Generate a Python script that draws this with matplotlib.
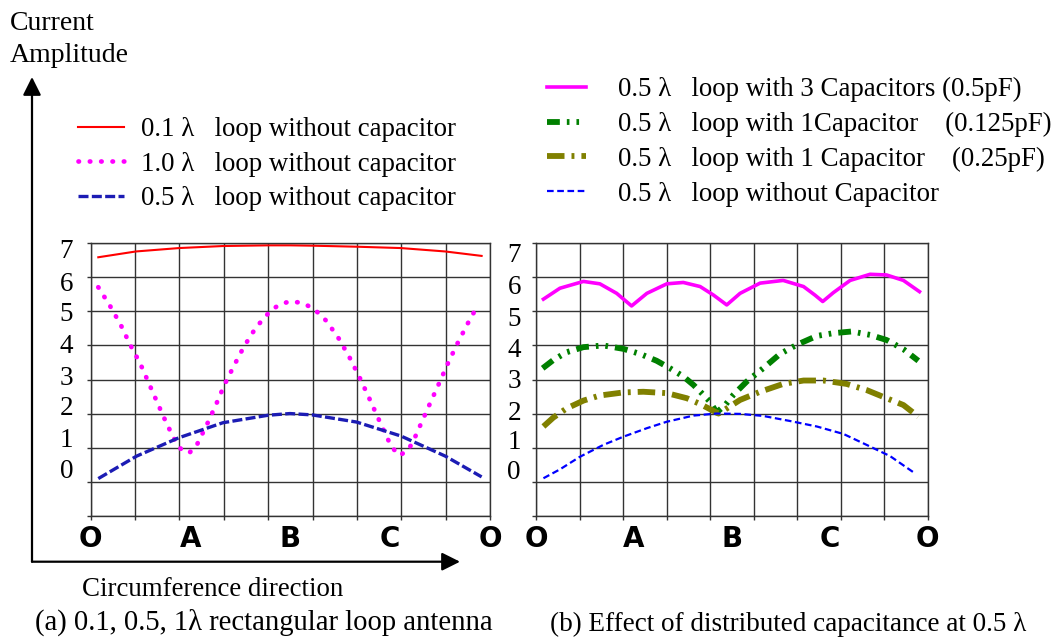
import numpy as np
from matplotlib import pyplot as plt
from matplotlib.patches import FancyArrowPatch

# position along the loop circumference (0 = O, 1 = back to O)
pos_01 = [0.019, 0.113, 0.221, 0.331, 0.444, 0.5, 0.555, 0.666, 0.777, 0.888, 0.979]
amp_01 = [6.59, 6.76, 6.86, 6.92, 6.94, 6.94, 6.93, 6.90, 6.86, 6.76, 6.63]

pos_10 = [0.019, 0.048, 0.075, 0.098, 0.124, 0.146, 0.168, 0.19, 0.214, 0.232, 0.249,
          0.265, 0.29, 0.313, 0.334, 0.359, 0.384, 0.414, 0.449, 0.471, 0.497, 0.526,
          0.551, 0.573, 0.591, 0.622, 0.649, 0.673, 0.696, 0.719, 0.741, 0.754, 0.772,
          0.792, 0.806, 0.829, 0.851, 0.873, 0.896, 0.919, 0.944, 0.971]
amp_10 = [5.71, 5.17, 4.61, 4.04, 3.47, 2.88, 2.29, 1.71, 1.14, 0.87, 0.87,
          1.06, 1.65, 2.24, 2.82, 3.41, 3.97, 4.53, 5.0, 5.19, 5.29, 5.26,
          5.13, 4.93, 4.71, 4.19, 3.63, 3.07, 2.49, 1.89, 1.32, 1.02, 0.77,
          0.89, 1.14, 1.75, 2.33, 2.9, 3.51, 4.07, 4.64, 5.21]

pos_05a = [0.019, 0.115, 0.221, 0.331, 0.444, 0.499, 0.555, 0.666, 0.777, 0.888, 0.979]
amp_05a = [0.09, 0.75, 1.29, 1.73, 1.95, 2.0, 1.96, 1.75, 1.34, 0.75, 0.14]

pos_3cap = [0.019, 0.061, 0.121, 0.163, 0.206, 0.244, 0.283, 0.334, 0.376, 0.419, 0.453,
            0.487, 0.521, 0.572, 0.631, 0.683, 0.712, 0.732, 0.759, 0.802, 0.853, 0.895,
            0.938, 0.979]
amp_3cap = [5.36, 5.68, 5.88, 5.81, 5.53, 5.16, 5.53, 5.81, 5.85, 5.73, 5.48,
            5.19, 5.53, 5.83, 5.91, 5.73, 5.48, 5.29, 5.55, 5.91, 6.09, 6.07,
            5.91, 5.58]

pos_c0125 = [0.017, 0.044, 0.078, 0.121, 0.172, 0.223, 0.266, 0.308, 0.342, 0.376, 0.402,
             0.423, 0.444, 0.461, 0.483, 0.504, 0.538, 0.58, 0.623, 0.666, 0.717, 0.759,
             0.806, 0.853, 0.895, 0.938, 0.976]
amp_c0125 = [3.33, 3.57, 3.8, 3.95, 4.0, 3.9, 3.75, 3.55, 3.33, 3.09, 2.84,
             2.6, 2.35, 2.03, 2.25, 2.55, 2.94, 3.33, 3.75, 4.02, 4.28, 4.36,
             4.41, 4.31, 4.16, 3.89, 3.55]

pos_c025 = [0.019, 0.044, 0.078, 0.121, 0.163, 0.223, 0.274, 0.334, 0.385, 0.419, 0.444,
            0.466, 0.487, 0.521, 0.572, 0.631, 0.683, 0.734, 0.793, 0.844, 0.895, 0.938,
            0.976]
amp_c025 = [1.62, 1.88, 2.15, 2.38, 2.53, 2.62, 2.64, 2.6, 2.45, 2.28, 2.13,
            2.0, 2.15, 2.4, 2.64, 2.87, 2.97, 2.97, 2.87, 2.69, 2.45, 2.25,
            1.91]

pos_05b = [0.019, 0.061, 0.112, 0.172, 0.223, 0.283, 0.334, 0.402, 0.461, 0.521, 0.58,
           0.649, 0.717, 0.785, 0.844, 0.904, 0.968]
amp_05b = [0.1, 0.36, 0.73, 1.08, 1.32, 1.57, 1.76, 1.94, 2.0, 1.99, 1.93,
           1.78, 1.62, 1.4, 1.08, 0.75, 0.24]

point_labels = ["O", "A", "B", "C", "O"]
amp_labels = ["0", "1", "2", "3", "4", "5", "6", "7"]
# the printed amplitude numbers sit a little off the grid lines
amp_label_pos_a = [0.40, 1.30, 2.24, 3.11, 4.05, 5.0, 5.87, 6.84]
amp_label_pos_b = [0.37, 1.25, 2.10, 3.04, 3.95, 4.86, 5.80, 6.74]

SERIF = "Liberation Serif"
W, H = 1063, 644


def style_panel(ax, label_pos, ypad):
    ax.set_xlim(0, 1)
    ax.set_ylim(-1, 7)
    ax.set_xticks(np.linspace(0, 1, 10))
    ax.set_yticks(np.arange(-1, 8))
    ax.set_xticklabels([])
    ax.set_yticklabels([])
    ax.xaxis.remove_overlapping_locs = False
    ax.yaxis.remove_overlapping_locs = False
    ax.set_xticks([0, 0.25, 0.5, 0.75, 1], minor=True)
    ax.set_xticklabels(point_labels, minor=True, fontfamily="DejaVu Sans",
                       fontweight="bold", fontsize=20)
    ax.set_yticks(label_pos, minor=True)
    ax.set_yticklabels(amp_labels, minor=True, fontfamily=SERIF, fontsize=19.5)
    ax.tick_params(which="major", length=3, width=1, color="#333333", direction="out")
    ax.tick_params(axis="x", which="minor", length=0, pad=7)
    ax.tick_params(axis="y", which="minor", length=0, pad=ypad)
    ax.grid(True, which="major", color="#333333", linewidth=1.0)
    for s in ax.spines.values():
        s.set_color("#333333")
        s.set_linewidth(1.0)
    ax.set_axisbelow(True)


fig = plt.figure(figsize=(W / 100, H / 100), dpi=100)
ax1 = fig.add_axes([90.7 / W, 1 - 515.7 / H, 399.3 / W, 272.4 / H])
ax2 = fig.add_axes([536 / W, 1 - 515.7 / H, 391.7 / W, 272.4 / H])

l1, = ax1.plot(pos_01, amp_01, color="#ff0000", lw=1.5)
l2, = ax1.plot(pos_10, amp_10, color="#ff00ff", lw=3.4, dashes=(0.1, 2.3),
               dash_capstyle="round")
l3, = ax1.plot(pos_05a, amp_05a, color="#1c1cb4", lw=2.4, dashes=(3, 1.0))
style_panel(ax1, amp_label_pos_a, 12.7)

r1, = ax2.plot(pos_3cap, amp_3cap, color="#ff00ff", lw=2.6)
r2, = ax2.plot(pos_c0125, amp_c0125, color="#008000", lw=4.2,
               dashes=(2.2, 1.2, 0.45, 1.2, 0.45, 1.2))
r3, = ax2.plot(pos_c025, amp_c025, color="#808000", lw=4.2, dashes=(3.0, 1.2, 0.5, 1.2))
r4, = ax2.plot(pos_05b, amp_05b, color="#0000ff", lw=1.6, dashes=(3, 1.6))
style_panel(ax2, amp_label_pos_b, 10.8)

leg_kw = dict(frameon=False, prop={"family": SERIF, "size": 19.4}, borderpad=0,
              borderaxespad=0, labelspacing=0.36)
fig.legend([l1, l2, l3],
           ["0.1 \u03bb   loop without capacitor",
            "1.0 \u03bb   loop without capacitor",
            "0.5 \u03bb   loop without capacitor"],
           loc="upper left", bbox_to_anchor=(78 / W, 1 - 117 / H),
           handlelength=1.7, handletextpad=0.64, **leg_kw)
fig.legend([r1, r2, r3, r4],
           ["0.5 \u03bb   loop with 3 Capacitors (0.5pF)",
            "0.5 \u03bb   loop with 1Capacitor    (0.125pF)",
            "0.5 \u03bb   loop with 1 Capacitor    (0.25pF)",
            "0.5 \u03bb   loop without Capacitor"],
           loc="upper left", bbox_to_anchor=(547 / W, 1 - 77 / H),
           handlelength=1.44, handletextpad=1.2, **leg_kw)

# axis arrows drawn in figure pixels
corner = (32, H - 561.7)
for tip in [(32, H - 77), (460, H - 561.7)]:
    fig.patches.append(FancyArrowPatch(corner, tip, transform=None,
                                       arrowstyle="-|>,head_length=1.1,head_width=0.55",
                                       mutation_scale=10, lw=1.6, color="black",
                                       shrinkA=0, shrinkB=0))

fig.text(10 / W, 1 - 23 / H, "Current", family=SERIF, fontsize=20, va="center")
fig.text(10 / W, 1 - 56 / H, "Amplitude", family=SERIF, fontsize=20, va="center")
fig.text(82 / W, 1 - 590 / H, "Circumference direction", family=SERIF, fontsize=19.4,
         va="center")
fig.text(35 / W, 1 - 622 / H, "(a) 0.1, 0.5, 1\u03bb rectangular loop antenna",
         family=SERIF, fontsize=20.6, va="center")
fig.text(550 / W, 1 - 624 / H, "(b) Effect of distributed capacitance at 0.5 \u03bb",
         family=SERIF, fontsize=19.5, va="center")

fig.savefig("out.png", dpi=100)
